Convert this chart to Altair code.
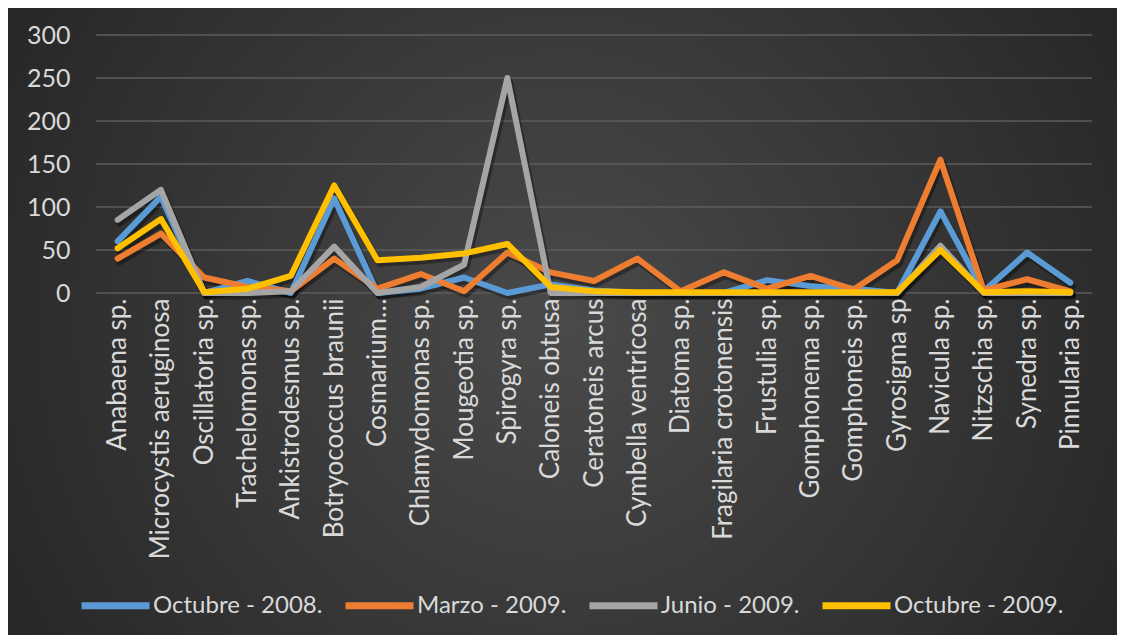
import altair as alt
import pandas as pd

categories = ["Anabaena sp.", "Microcystis aeruginosa", "Oscillatoria sp.", "Trachelomonas sp.",
              "Ankistrodesmus sp.", "Botryococcus braunii", "Cosmarium…", "Chlamydomonas sp.",
              "Mougeotia sp.", "Spirogyra sp.", "Caloneis obtusa", "Ceratoneis arcus",
              "Cymbella ventricosa", "Diatoma sp.", "Fragilaria crotonensis", "Frustulia sp.",
              "Gomphonema sp.", "Gomphoneis sp.", "Gyrosigma sp", "Navicula sp.", "Nitzschia sp.",
              "Synedra sp.", "Pinnularia sp."]

series_names = ["Octubre - 2008.", "Marzo - 2009.", "Junio - 2009.", "Octubre - 2009."]
series_colors = ["#5B9BD5", "#ED7D31", "#A5A5A5", "#FFC000"]

octubre_2008 = [60, 112, 0, 14, 0, 110, 0, 5, 18, 0, 10, 3, 0, 0, 0, 15, 8, 5, 0, 95, 2, 47, 12]
marzo_2009 = [40, 69, 18, 7, 2, 40, 5, 22, 2, 47, 24, 14, 40, 2, 24, 5, 20, 4, 38, 155, 3, 16, 2]
junio_2009 = [85, 120, 0, 0, 2, 54, 0, 7, 33, 250, 0, 0, 0, 0, 0, 0, 0, 0, 0, 55, 0, 0, 0]
octubre_2009 = [52, 86, 1, 5, 20, 125, 38, 41, 46, 57, 7, 2, 1, 1, 1, 1, 1, 1, 1, 50, 1, 2, 1]

y_ticks = [0, 50, 100, 150, 200, 250, 300]

rows = []
for name, vals in zip(series_names, [octubre_2008, marzo_2009, junio_2009, octubre_2009]):
    for c, v in zip(categories, vals):
        rows.append({"species": c, "value": v, "serie": name})
df = pd.DataFrame(rows)

W, H = 996, 258
PL, PT, PR, PB = 88, 27, 25, 342
FONT = "Lato"
TXT = "#d9d9d9"

y_axis = alt.Axis(title=None, values=y_ticks, ticks=False, tickSize=0, domain=False,
                  grid=False, labelPadding=26, labelFont=FONT, labelFontSize=25,
                  labelColor=TXT, zindex=1)
y_scale = alt.Scale(domain=[0, 300])
x_enc = alt.X("species:N", sort=categories, scale=alt.Scale(type="point", padding=0.5),
              axis=alt.Axis(title=None, labelAngle=-90, labelAlign="right", labelBaseline="middle",
                            labelPadding=5, ticks=False, domain=False, grid=False, tickSize=0,
                            labelFont=FONT, labelFontSize=26, labelColor=TXT, labelLimit=400,
                            zindex=1))

bg = alt.Chart(pd.DataFrame({"a": [0]})).mark_rect(
    fill={"gradient": "radial", "x1": 0.5, "y1": 0.5, "r1": 0, "x2": 0.5, "y2": 0.5, "r2": 0.75,
          "stops": [{"offset": 0, "color": "#4a4a4a"}, {"offset": 1, "color": "#1c1c1c"}]},
    clip=False,
).encode(
    x=alt.value(-PL), x2=alt.value(W + PR), y=alt.value(-PT), y2=alt.value(H + PB)
)

grid = alt.Chart(pd.DataFrame({"value": y_ticks})).mark_rule(color="#5c5c5c", strokeWidth=1.5).encode(
    y=alt.Y("value:Q", scale=y_scale, axis=y_axis),
    x=alt.value(0), x2=alt.value(W),
)

shadow = alt.Chart(df).mark_line(strokeWidth=7, strokeCap="round", strokeJoin="round",
                                 color="#000000", opacity=0.35, xOffset=2, yOffset=3).encode(
    x=x_enc,
    y=alt.Y("value:Q", scale=y_scale, axis=y_axis),
    detail="serie:N",
)

lines = alt.Chart(df).mark_line(strokeWidth=6, strokeCap="round", strokeJoin="round").encode(
    x=x_enc,
    y=alt.Y("value:Q", scale=y_scale, axis=y_axis),
    color=alt.Color("serie:N", sort=series_names,
                    scale=alt.Scale(domain=series_names, range=series_colors),
                    legend=alt.Legend(title=None, orient="none", direction="horizontal",
                                      legendX=-18, legendY=533, symbolType="stroke",
                                      symbolSize=4624, symbolStrokeWidth=7, labelFont=FONT,
                                      labelFontSize=24, labelColor=TXT, labelOffset=0,
                                      columnPadding=8, labelLimit=400)),
)

chart = alt.layer(bg, grid, shadow, lines).properties(
    width=W, height=H,
    autosize=alt.AutoSizeParams(type="none"),
    padding={"left": PL, "top": PT, "right": PR, "bottom": PB},
    background="#2a2a2a",
).configure_view(stroke=None)

chart.save("out.html", embed_options={"renderer": "svg", "actions": False})
